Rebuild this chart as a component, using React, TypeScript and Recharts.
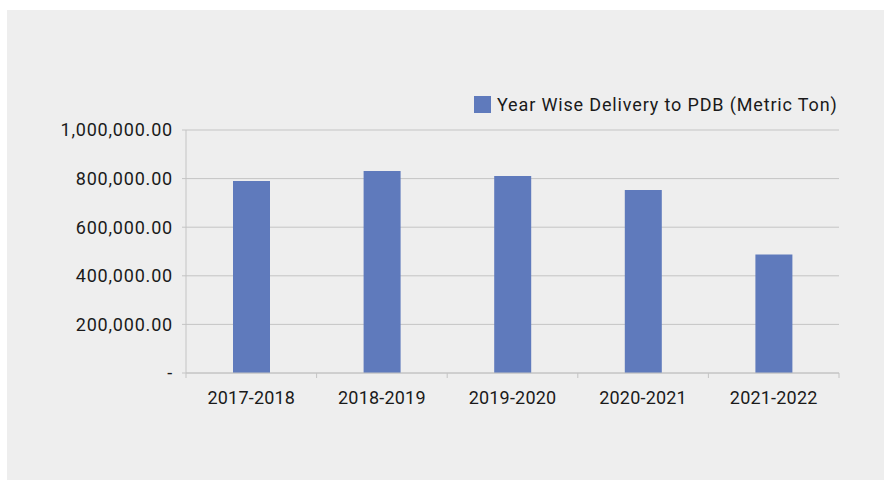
import React from "react";
import { BarChart, Bar, XAxis, YAxis, CartesianGrid, Legend } from "recharts";

const categories = ["2017-2018", "2018-2019", "2019-2020", "2020-2021", "2021-2022"];
const deliveries = [790000, 831000, 811000, 753000, 488000];
const yTicks = [0, 200000, 400000, 600000, 800000, 1000000];
const seriesName = "Year Wise Delivery to PDB (Metric Ton)";

const data = categories.map((c, i) => ({ year: c, value: deliveries[i] }));

const FONT = "Roboto, 'DejaVu Sans', sans-serif";
const GRID = "#c4c4c4";
const BAR = "#5f7abc";
const TEXT = "#1a1a1a";

const fmt = (v: number) =>
  v === 0
    ? "-"
    : v.toLocaleString("en-US", { minimumFractionDigits: 2, maximumFractionDigits: 2 });

const XTick = (props: any) => {
  const { x, y, payload, index, visibleTicksCount } = props;
  const off = payload.offset || 0;
  const last = index === (visibleTicksCount ?? categories.length) - 1;
  return (
    <g>
      <line x1={x - off} x2={x - off} y1={y} y2={y + 5} stroke={GRID} strokeWidth={1} />
      {last && <line x1={x + off} x2={x + off} y1={y} y2={y + 5} stroke={GRID} strokeWidth={1} />}
      <text x={x} y={y + 26} textAnchor="middle" dominantBaseline="middle" fill={TEXT} fontSize={18} fontFamily={FONT} letterSpacing={0.2}>
        {payload.value}
      </text>
    </g>
  );
};

const LegendContent = () => (
  <div style={{ display: "flex", alignItems: "center", fontFamily: FONT, fontSize: 18, color: TEXT, whiteSpace: "nowrap", letterSpacing: 0.85 }}>
    <span style={{ display: "inline-block", width: 17, height: 17, background: BAR, marginRight: 6 }} />
    <span>{seriesName}</span>
  </div>
);

export default function App() {
  return (
    <div style={{ position: "absolute", left: 0, top: 0, width: 884, height: 480, background: "#ffffff" }}>
      <div style={{ position: "absolute", left: 7, top: 10, width: 877, height: 470, background: "#eeeeee" }} />
      <div style={{ position: "absolute", left: 0, top: 0 }}>
        <BarChart
          width={884}
          height={480}
          data={data}
          margin={{ top: 130, right: 45, bottom: 67, left: 0 }}
          barCategoryGap="0%"
        >
          <CartesianGrid vertical={false} stroke={GRID} strokeWidth={1} />
          <XAxis
            dataKey="year"
            axisLine={{ stroke: GRID }}
            tickLine={false}
            tickSize={0}
            tickMargin={0}
            tick={<XTick />}
            height={40}
            interval={0}
          />
          <YAxis
            width={186}
            domain={[0, 1000000]}
            ticks={yTicks}
            tickFormatter={fmt}
            axisLine={{ stroke: GRID }}
            tickLine={{ stroke: GRID }}
            tickSize={4}
            tickMargin={9}
            tick={{ fill: TEXT, fontSize: 18, fontFamily: FONT, letterSpacing: 0.8 }}
            interval={0}
          />
          <Legend
            layout="horizontal"
            verticalAlign="middle"
            align="center"
            content={<LegendContent />}
            wrapperStyle={{ position: "absolute", left: 474, top: 94, width: "auto" }}
          />
          <Bar dataKey="value" name={seriesName} fill={BAR} barSize={37} isAnimationActive={false} />
        </BarChart>
      </div>
    </div>
  );
}
